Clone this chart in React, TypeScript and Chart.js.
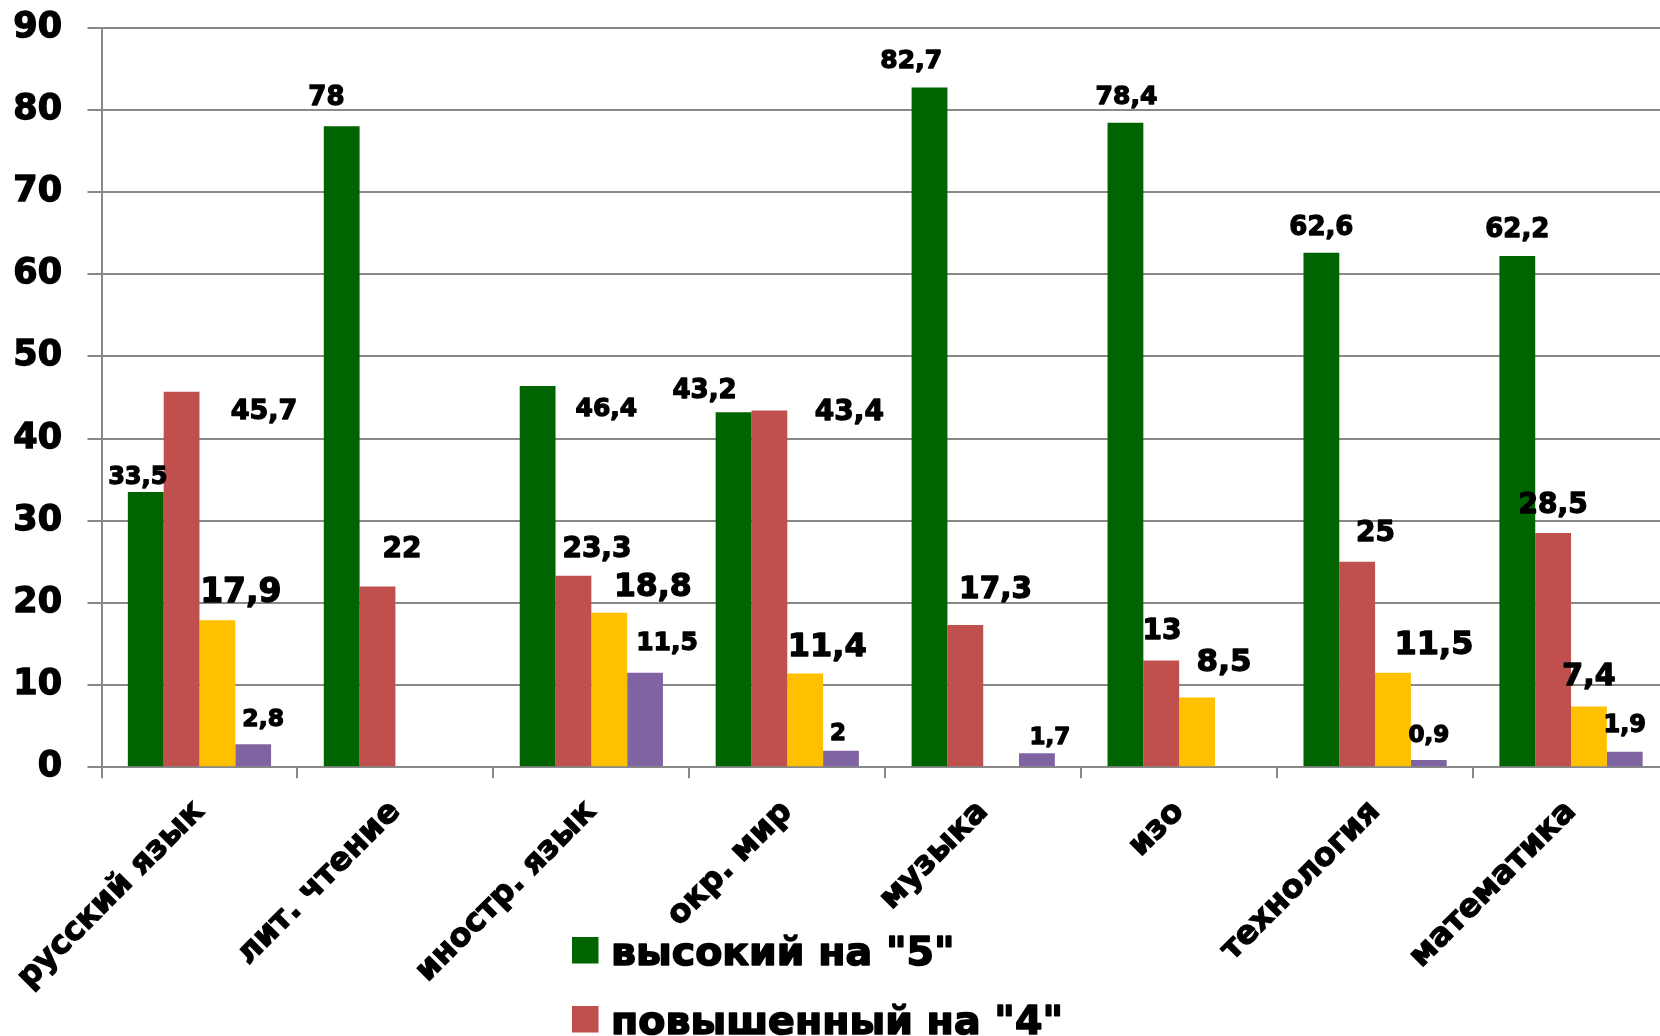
import React, { useEffect, useRef } from "react";
import { Chart, registerables } from "chart.js";

Chart.register(...registerables);

// ---- data ----
const categories = [
  "русский язык",
  "лит. чтение",
  "иностр. язык",
  "окр. мир",
  "музыка",
  "изо",
  "технология",
  "математика",
];
const seriesNames = ['высокий на "5"', 'повышенный на "4"', 'базовый на "3"', 'низкий на "2"'];
const highValues = [33.5, 78, 46.4, 43.2, 82.7, 78.4, 62.6, 62.2];
const raisedValues = [45.7, 22, 23.3, 43.4, 17.3, 13, 25, 28.5];
const basicValues = [17.9, null, 18.8, 11.4, null, 8.5, 11.5, 7.4];
const lowValues = [2.8, null, 11.5, 2, 1.7, null, 0.9, 1.9];
const yMin = 0;
const yMax = 90;
const yStep = 10;

// ---- styles ----
const seriesColors = ["#006400", "#C0504D", "#FFC000", "#8064A2"];
const gridColor = "#888888";
const FONT = "DejaVu Sans";
const STROKE = 1.3;

// label offsets (dx, dy) from bar top-centre to label centre, as placed in the original
const labelOffsets: ([number, number] | null)[][] = [
  [[-8, -16.5], [-15.3, -31], [68.7, 21], [-29, -23.2], [-18.3, -28.3], [1, -28.3], [0, -27.7], [0, -28.5]],
  [[82.5, 18], [24.5, -39.6], [23.5, -28.7], [80, -0.7], [30.2, -38.2], [0.7, -31.7], [18.2, -31], [0, -30]],
  [[23.5, -30.5], null, [43.5, -28.3], [22, -29.3], null, [27, -37.7], [41, -30], [0, -32.7]],
  [[10, -26.5], null, [22, -32.3], [-3, -19.5], [13, -17.5], null, [0, -26.7], [0, -28]],
];
const labelSizes = [
  [24, 26, 25, 26, 25, 25, 26, 26],
  [27, 28, 28, 28, 29.5, 28, 28, 28],
  [33, 0, 31.5, 32, 0, 31, 32, 30],
  [23.5, 0, 25, 23, 23, 0, 23, 24],
];

const valueLabelPlugin = {
  id: "valueLabels",
  afterDatasetsDraw(chart: any) {
    const ctx = chart.ctx;
    ctx.save();
    ctx.fillStyle = "#000";
    ctx.strokeStyle = "#000";
    ctx.lineWidth = STROKE;
    ctx.lineJoin = "round";
    ctx.textAlign = "center";
    ctx.textBaseline = "alphabetic";
    chart.data.datasets.forEach((ds: any, di: number) => {
      const meta = chart.getDatasetMeta(di);
      meta.data.forEach((el: any, i: number) => {
        const v = ds.data[i];
        if (v === null || v === undefined) return;
        const off = labelOffsets[di][i] || [0, -28];
        const size = labelSizes[di][i] || 25;
        ctx.font = `bold ${size}px "${FONT}"`;
        const text = String(v).replace(".", ",");
        const cx = el.x + off[0];
        const cy = el.y + off[1] + (size * 0.729) / 2;
        ctx.strokeText(text, cx, cy);
        ctx.fillText(text, cx, cy);
      });
    });
    ctx.restore();
  },
};

const legendPlugin = {
  id: "stackedLegend",
  afterDraw(chart: any) {
    const ctx = chart.ctx;
    ctx.save();
    const boxX = 572;
    const firstTop = 937;
    const box = 26.5;
    const step = 69;
    const textX = 611;
    const size = 39.5;
    ctx.font = `bold ${size}px "${FONT}"`;
    ctx.textAlign = "left";
    ctx.textBaseline = "alphabetic";
    ctx.lineWidth = STROKE + 0.3;
    ctx.lineJoin = "round";
    chart.data.datasets.forEach((ds: any, di: number) => {
      const top = firstTop + di * step;
      ctx.fillStyle = ds.backgroundColor;
      ctx.fillRect(boxX, top, box, box);
      ctx.fillStyle = "#000";
      ctx.strokeStyle = "#000";
      const y = top + box / 2 + (size * 0.729) / 2;
      ctx.strokeText(ds.label, textX, y);
      ctx.fillText(ds.label, textX, y);
    });
    ctx.restore();
  },
};

export default function App() {
  const canvasRef = useRef<HTMLCanvasElement | null>(null);

  useEffect(() => {
    if (!canvasRef.current) return;
    const seriesValues = [highValues, raisedValues, basicValues, lowValues];
    const chart = new Chart(canvasRef.current, {
      type: "bar",
      data: {
        labels: categories,
        datasets: seriesValues.map((vals, i) => ({
          label: seriesNames[i],
          data: vals as any,
          backgroundColor: seriesColors[i],
          borderWidth: 0,
          categoryPercentage: 0.731,
          barPercentage: 1,
        })),
      },
      options: {
        responsive: false,
        animation: false,
        devicePixelRatio: 1,
        layout: { padding: { top: 27.5, left: 0, right: 1, bottom: 0 } },
        plugins: {
          legend: { display: false },
          tooltip: { enabled: false },
        },
        scales: {
          x: {
            grid: {
              display: true,
              drawOnChartArea: false,
              drawTicks: true,
              tickLength: 11,
              color: gridColor,
              lineWidth: 2,
              offset: true,
            },
            border: { display: true, color: gridColor, width: 2 },
            ticks: {
              autoSkip: false,
              minRotation: 45,
              maxRotation: 45,
              padding: 15,
              color: "#000",
              textStrokeColor: "#000",
              textStrokeWidth: STROKE,
              font: { family: FONT, size: 32, weight: "bold" },
            },
            afterFit: (s: any) => {
              s.height = 268.7;
            },
          },
          y: {
            min: yMin,
            max: yMax,
            ticks: {
              stepSize: yStep,
              padding: 25.5,
              color: "#000",
              textStrokeColor: "#000",
              textStrokeWidth: STROKE,
              font: { family: FONT, size: 35, weight: "bold" },
            },
            grid: { color: gridColor, lineWidth: 2, tickLength: 14 },
            border: { display: true, color: gridColor, width: 2 },
            afterFit: (s: any) => {
              s.width = 101.5;
              s.paddingTop = 0;
              s.paddingBottom = 0;
            },
          },
        },
      } as any,
      plugins: [valueLabelPlugin, legendPlugin],
    });
    return () => chart.destroy();
  }, []);

  return (
    <div
      style={{
        position: "fixed",
        left: 0,
        top: 0,
        width: 1660,
        height: 1036,
        overflow: "hidden",
        background: "#fff",
      }}
    >
      <canvas
        ref={canvasRef}
        width={1670}
        height={1036}
        style={{ display: "block", width: 1670, height: 1036 }}
      />
    </div>
  );
}
